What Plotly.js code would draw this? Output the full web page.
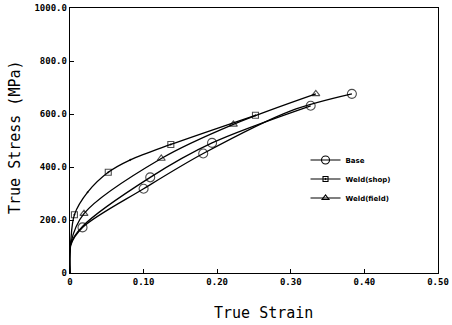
<!DOCTYPE html>
<html>
<head>
<meta charset="utf-8">
<script src="https://cdn.plot.ly/plotly-3.0.1.min.js"></script>
<style>html,body{margin:0;padding:0;background:#fff}#chart{width:452px;height:325px}</style>
</head>
<body>
<div id="chart"></div>
<script>
// ---- data ----
var baseLowX   = [0, 0.001, 0.017, 0.100, 0.181, 0.300, 0.383];
var baseLowY   = [0, 105,   172,   318,   451,   612,   676];
var baseLowMk  = [0, 0,     1,     1,     1,     0,     1];

var baseUpX    = [0, 0.001, 0.017, 0.109, 0.193, 0.327];
var baseUpY    = [0, 110,   176,   361,   491,   631];
var baseUpMk   = [0, 0,     0,     1,     1,     1];

var shopX      = [0, 0.001, 0.006, 0.024, 0.052, 0.082, 0.137, 0.252];
var shopY      = [0, 118,   220,   305,   380,   427,   485,   595];
var shopMk     = [0, 0,     1,     0,     1,     0,     1,     1];

var fieldX     = [0, 0.001, 0.019, 0.124, 0.222, 0.334];
var fieldY     = [0, 112,   224,   432,   561,   676];
var fieldMk    = [0, 0,     1,     1,     1,     1];

var seriesNames = ['Base', 'Weld(shop)', 'Weld(field)'];
var xTickVals = [0, 0.1, 0.2, 0.3, 0.4, 0.5];
var xTickText = ['0', '0.10', '0.20', '0.30', '0.40', '0.50'];
var yTickVals = [0, 200, 400, 600, 800, 1000];
var yTickText = ['0', '200.0', '400.0', '600.0', '800.0', '1000.0'];

// ---- styles ----
var symBase = 'circle-open', symShop = 'square-open-dot', symField = 'triangle-up-open';
var sizes = {'circle-open': 9, 'square-open-dot': 6, 'triangle-up-open': 7};

function curve(x, y, mk, sym) {
  return {
    x: x, y: y, type: 'scatter', mode: 'lines+markers', showlegend: false,
    line: {color: '#000', width: 1.3, shape: 'spline', smoothing: 0.9},
    marker: {symbol: sym, color: '#000', size: mk.map(function(m){return m ? sizes[sym] : 0;}),
             line: {color: '#000', width: 1.1}},
    hoverinfo: 'skip'
  };
}
function legendEntry(name, sym) {
  return {
    x: [null], y: [null], type: 'scatter', mode: 'lines+markers', name: name,
    line: {color: '#000', width: 1.1},
    marker: {symbol: sym, color: '#000', size: sizes[sym] - 1, line: {color: '#000', width: 1.1}}
  };
}

var data = [
  curve(baseLowX, baseLowY, baseLowMk, symBase),
  curve(baseUpX, baseUpY, baseUpMk, symBase),
  curve(shopX, shopY, shopMk, symShop),
  curve(fieldX, fieldY, fieldMk, symField),
  legendEntry(seriesNames[0], symBase),
  legendEntry(seriesNames[1], symShop),
  legendEntry(seriesNames[2], symField)
];

var tickFont = {family: 'DejaVu Sans Mono', size: 9, color: '#000', weight: 'bold'};
var layout = {
  width: 452, height: 325,
  margin: {l: 70, r: 14, t: 8, b: 52},
  paper_bgcolor: '#fff', plot_bgcolor: '#fff',
  showlegend: true,
  legend: {x: 0.64, y: 0.355, xanchor: 'left', yanchor: 'middle', bgcolor: 'rgba(0,0,0,0)',
           font: {family: 'DejaVu Sans', size: 7, color: '#000', weight: 'bold'},
           itemwidth: 30, tracegroupgap: 0},
  xaxis: {range: [0, 0.5], tickvals: xTickVals, ticktext: xTickText, tickfont: tickFont,
          showgrid: false, zeroline: false, showline: true, mirror: true, linecolor: '#000', linewidth: 1.3,
          ticks: 'inside', ticklen: 4, tickwidth: 1, tickcolor: '#000'},
  yaxis: {range: [0, 1000], tickvals: yTickVals, ticktext: yTickText, tickfont: tickFont,
          showgrid: false, zeroline: false, showline: true, mirror: true, linecolor: '#000', linewidth: 1.3,
          ticks: 'inside', ticklen: 4, tickwidth: 1, tickcolor: '#000'},
  annotations: [
    {text: 'True Strain', xref: 'paper', yref: 'paper', x: (263 - 70) / 368, y: -(313 - 273) / 265,
     xanchor: 'center', yanchor: 'middle', showarrow: false,
     font: {family: 'DejaVu Sans Mono', size: 15, color: '#000'}},
    {text: 'True Stress (MPa)', xref: 'paper', yref: 'paper', x: -(70 - 15) / 368, y: (273 - 137) / 265,
     xanchor: 'center', yanchor: 'middle', showarrow: false, textangle: -90,
     font: {family: 'DejaVu Sans Mono', size: 15, color: '#000'}}
  ]
};

Plotly.newPlot('chart', data, layout, {displayModeBar: false, staticPlot: true});
</script>
</body>
</html>
